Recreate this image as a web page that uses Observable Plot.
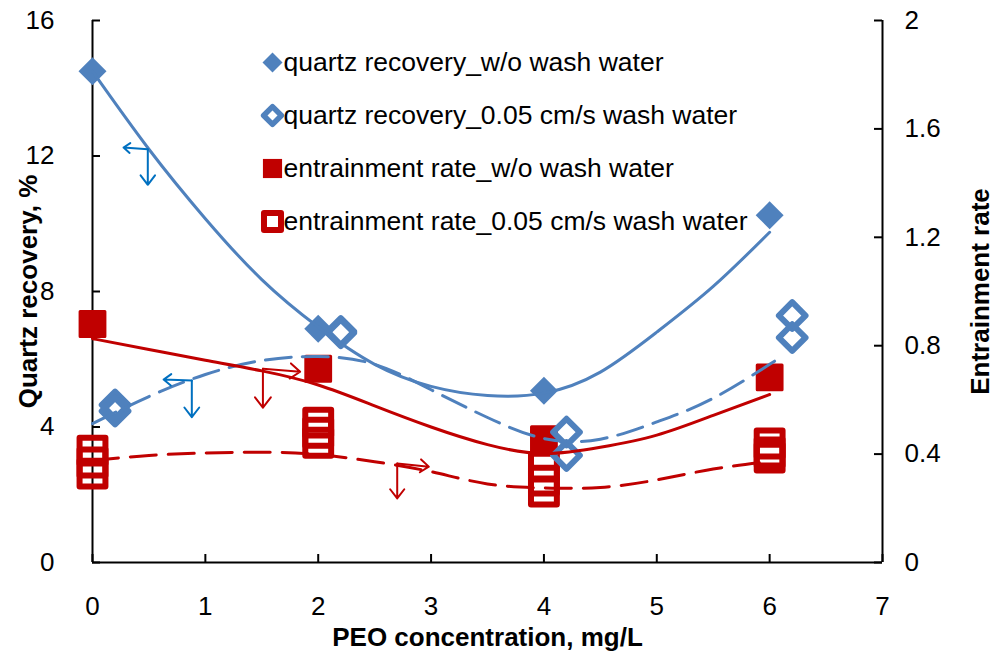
<!DOCTYPE html>
<html>
<head>
<meta charset="utf-8">
<script src="https://cdn.jsdelivr.net/npm/d3@7"></script>
<script src="https://cdn.jsdelivr.net/npm/@observablehq/plot@0.6"></script>
<style>
  html, body { margin: 0; padding: 0; background: #fff; }
  #chart { width: 993px; height: 656px; }
</style>
</head>
<body>
<div id="chart"></div>
<script>
// ---------- data ----------
const xTicks = [0, 1, 2, 3, 4, 5, 6, 7];
const leftTicks = [0, 4, 8, 12, 16];
const rightTicks = [0, 0.4, 0.8, 1.2, 1.6, 2];

// quartz recovery, % (left axis)
const quartzNoWashX = [0, 2, 4, 6];
const quartzNoWash = [14.5, 6.9, 5.07, 10.25];
const quartzWashX = [0.2, 0.2, 2.2, 2.2, 4.2, 4.2, 6.2, 6.2];
const quartzWash = [4.65, 4.47, 6.82, 6.78, 3.85, 3.16, 7.29, 6.64];

// entrainment rate (right axis)
const entrainNoWashX = [0, 2, 4, 6];
const entrainNoWash = [0.88, 0.715, 0.455, 0.683];
const entrainWashX = [0, 0, 0, 2, 2, 2, 4, 4, 4, 6, 6, 6];
const entrainWash = [0.413, 0.369, 0.328, 0.516, 0.479, 0.442, 0.354, 0.302, 0.262, 0.439, 0.406, 0.387];

// trend lines, points
const trendX = [0, 0.5, 1, 1.5, 2, 2.5, 3, 3.5, 4, 4.5, 5, 5.5, 6];
const quartzNoWashTrend = [14.5, 12.2, 10.15, 8.35, 6.95, 5.85, 5.2, 4.93, 5.0, 5.62, 6.8, 8.15, 9.75];
const quartzWashTrendX = [0, 0.5, 1, 1.5, 2, 2.5, 3, 3.5, 4, 4.5, 5, 5.5, 6, 6.1];
const quartzWashTrend = [4.1, 4.9, 5.55, 5.96, 6.08, 5.85, 5.1, 4.28, 3.66, 3.64, 4.15, 4.85, 5.85, 6.05];
const entrainNoWashTrend = [0.826, 0.786, 0.746, 0.707, 0.655, 0.578, 0.5, 0.435, 0.402, 0.425, 0.47, 0.543, 0.62];
const entrainWashTrend = [0.376, 0.395, 0.404, 0.407, 0.398, 0.372, 0.335, 0.29, 0.275, 0.277, 0.305, 0.345, 0.372];

// annotation arrows: [x start, y start (left units), x end, y end]
const arrowX1 = [0.49, 0.49, 0.88, 0.88, 1.51, 1.51, 2.70, 2.70];
const arrowY1 = [12.2, 12.2, 5.37, 5.37, 5.72, 5.72, 2.92, 2.92];
const arrowX2 = [0.275, 0.49, 0.63, 0.88, 1.84, 1.51, 2.98, 2.70];
const arrowY2 = [12.25, 11.15, 5.40, 4.29, 5.63, 4.57, 2.83, 1.89];
const arrowSeries = ["q", "q", "q", "q", "e", "e", "e", "e"];

const legendLabels = [
  "quartz recovery_w/o wash water",
  "quartz recovery_0.05 cm/s wash water",
  "entrainment rate_w/o wash water",
  "entrainment rate_0.05 cm/s wash water"
];
const xLabel = "PEO concentration, mg/L";
const yLabel = "Quartz recovery, %";
const y2Label = "Entrainment rate";

// ---------- styling ----------
const blue = "#4F81BD", red = "#C00000", arrowBlue = "#0070C0";
const RATIO = 16 / 2; // left units per right unit
const W = 993, H = 656, mL = 92, mR = 111, mT = 20, mB = 94;
const plotW = W - mL - mR, plotH = H - mT - mB;
const font = "'Liberation Sans', Arial, sans-serif";

const pts = (xs, ys, k = 1) => xs.map((x, i) => ({x, y: ys[i] * k}));

const marks = [
  // axis lines
  Plot.ruleX([0, 7], {stroke: "black", strokeWidth: 2}),
  Plot.ruleY([0], {stroke: "black", strokeWidth: 2}),
  // inward tick marks
  Plot.tickX(xTicks, {x: d => d, insetTop: plotH - 8, stroke: "black", strokeWidth: 2}),
  Plot.tickY(leftTicks, {y: d => d, insetRight: plotW - 8, stroke: "black", strokeWidth: 2}),
  Plot.tickY(rightTicks.map(v => v * RATIO), {y: d => d, insetLeft: plotW - 8, stroke: "black", strokeWidth: 2}),
  // tick labels
  Plot.axisX({ticks: xTicks, tickSize: 0, tickPadding: 34, label: null, fontSize: 26, tickFormat: d => String(d)}),
  Plot.axisY({ticks: leftTicks, anchor: "left", tickSize: 0, tickPadding: 38, label: null, fontSize: 26, tickFormat: d => String(d)}),
  Plot.axisY({ticks: rightTicks.map(v => v * RATIO), anchor: "right", tickSize: 0, tickPadding: 22, label: null, fontSize: 26,
              tickFormat: d => String(+(d / RATIO).toFixed(1))}),
  // axis titles
  Plot.text([xLabel], {frameAnchor: "bottom", dy: 75, textAnchor: "middle", lineAnchor: "middle", fontWeight: "bold", fontSize: 26}),
  Plot.text([yLabel], {frameAnchor: "left", dx: -64, rotate: -90, textAnchor: "middle", lineAnchor: "middle", fontWeight: "bold", fontSize: 26}),
  Plot.text([y2Label], {frameAnchor: "right", dx: 98, rotate: -90, textAnchor: "middle", lineAnchor: "middle", fontWeight: "bold", fontSize: 26}),

  // markers
  Plot.dot(pts(entrainNoWashX, entrainNoWash, RATIO), {x: "x", y: "y", symbol: "square", r: 14, fill: red, stroke: red, strokeWidth: 3, strokeLinejoin: "round"}),
  Plot.dot(pts(entrainWashX, entrainWash, RATIO), {x: "x", y: "y", symbol: "square", r: 14.6, fill: "none", stroke: red, strokeWidth: 6, strokeLinejoin: "round"}),
  Plot.dot(pts(quartzNoWashX, quartzNoWash), {x: "x", y: "y", symbol: "diamond2", r: 12.6, fill: blue, stroke: "none"}),
  Plot.dot(pts(quartzWashX, quartzWash), {x: "x", y: "y", symbol: "diamond2", r: 12, fill: "none", stroke: blue, strokeWidth: 6, strokeLinejoin: "round"}),

  // trend lines
  Plot.line(pts(trendX, quartzNoWashTrend), {x: "x", y: "y", stroke: blue, strokeWidth: 3, curve: "natural"}),
  Plot.line(pts(quartzWashTrendX, quartzWashTrend), {x: "x", y: "y", stroke: blue, strokeWidth: 3, strokeDasharray: "26,11", curve: "natural"}),
  Plot.line(pts(trendX, entrainNoWashTrend, RATIO), {x: "x", y: "y", stroke: red, strokeWidth: 3, curve: "natural"}),
  Plot.line(pts(trendX, entrainWashTrend, RATIO), {x: "x", y: "y", stroke: red, strokeWidth: 3, strokeDasharray: "26,12", curve: "natural"}),

  // annotation arrows
  Plot.arrow(arrowX1.map((x, i) => ({x1: x, y1: arrowY1[i], x2: arrowX2[i], y2: arrowY2[i], s: arrowSeries[i]})), {
    x1: "x1", y1: "y1", x2: "x2", y2: "y2",
    stroke: d => d.s === "q" ? arrowBlue : red, strokeWidth: 2, headLength: 14, headAngle: 75
  })
];

// legend (inside the plot, top centre)
const legendSym = [
  {symbol: "diamond2", r: 9, fill: blue, stroke: "none", strokeWidth: 0},
  {symbol: "diamond2", r: 8, fill: "none", stroke: blue, strokeWidth: 5.5},
  {symbol: "square", r: 10.8, fill: red, stroke: "none", strokeWidth: 0},
  {symbol: "square", r: 9.6, fill: "none", stroke: red, strokeWidth: 6}
];
legendLabels.forEach((lab, i) => {
  const dy = 42 + i * 53;
  const s = legendSym[i];
  marks.push(Plot.dot([lab], {frameAnchor: "top-left", dx: 180, dy, symbol: s.symbol, r: s.r, fill: s.fill, stroke: s.stroke, strokeWidth: s.strokeWidth, strokeLinejoin: "round"}));
  marks.push(Plot.text([lab], {frameAnchor: "top-left", dx: 191, dy, textAnchor: "start", lineAnchor: "middle", fontSize: 26.5}));
});

const chart = Plot.plot({
  width: W, height: H,
  marginLeft: mL, marginRight: mR, marginTop: mT, marginBottom: mB,
  x: {domain: [0, 7]},
  y: {domain: [0, 16]},
  style: {fontFamily: font, fontSize: "26px", color: "black", background: "white", overflow: "visible"},
  marks
});
document.getElementById("chart").appendChild(chart);
</script>
</body>
</html>
